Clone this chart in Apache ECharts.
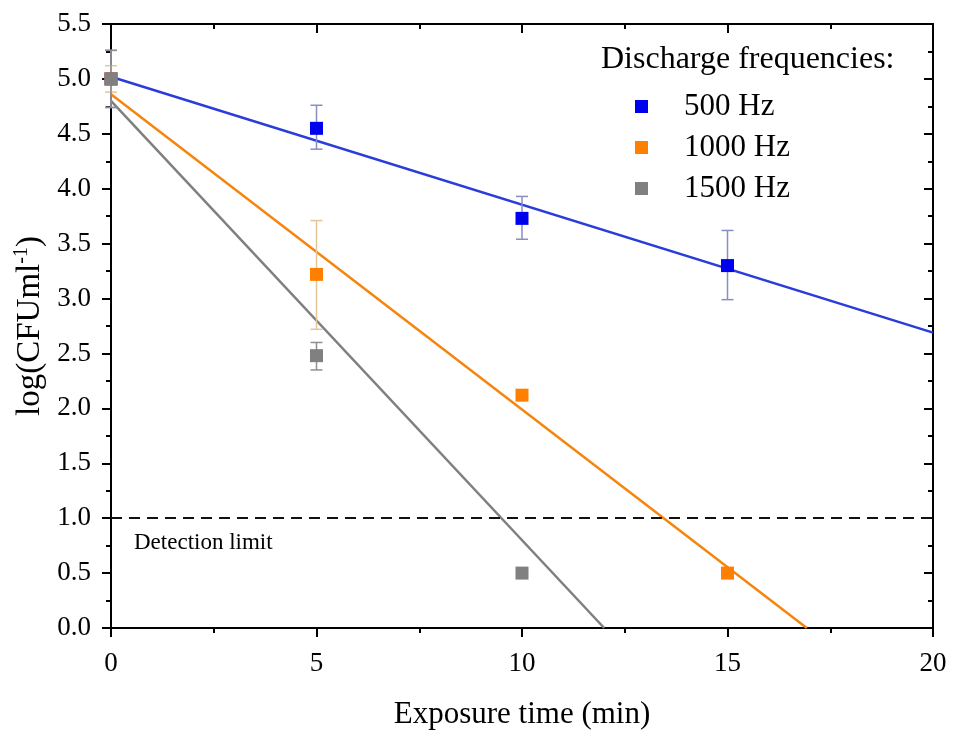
<!DOCTYPE html>
<html>
<head>
<meta charset="utf-8">
<script src="https://cdn.jsdelivr.net/npm/echarts@6/dist/echarts.min.js"></script>
<style>
  html, body { margin: 0; padding: 0; background: #fff; }
  #grafico { width: 954px; height: 735px; }
</style>
</head>
<body>
<div id="grafico"></div>
<script>
// measured points (time in min, log CFU/ml)
var time500 = [0, 5, 10, 15];
var val500 = [5.0, 4.55, 3.73, 3.30];
var low500 = [4.74, 4.36, 3.54, 2.99];
var high500 = [5.26, 4.76, 3.93, 3.62];

var time1000 = [0, 5, 10, 15];
var val1000 = [5.0, 3.22, 2.12, 0.50];
var low1000 = [4.88, 2.72, 2.12, 0.50];
var high1000 = [5.12, 3.71, 2.12, 0.50];

var time1500 = [0, 5, 10];
var val1500 = [5.0, 2.48, 0.50];
var low1500 = [4.74, 2.35, 0.50];
var high1500 = [5.26, 2.60, 0.50];

// linear fits: [x, y] endpoints
var fit500 = [[0, 5.02], [20, 2.69]];
var fit1000 = [[0, 4.86], [16.93, 0]];
var fit1500 = [[0, 4.80], [12.0, 0]];

var detectionLimit = 1.0;
var names = ['500 Hz', '1000 Hz', '1500 Hz'];

var font = 'Liberation Serif';
var chartDom = document.getElementById('grafico');
var myChart = echarts.init(chartDom);

function pts(xs, ys) {
  return xs.map(function (x, i) { return [x, ys[i]]; });
}
function bars(xs, lo, hi) {
  var out = [];
  xs.forEach(function (x, i) {
    if (hi[i] > lo[i]) out.push([x, lo[i], hi[i]]);
  });
  return out;
}
function errSeries(data, color) {
  return {
    type: 'custom',
    z: 3,
    silent: true,
    data: data,
    renderItem: function (params, api) {
      var p0 = api.coord([api.value(0), api.value(1)]);
      var p1 = api.coord([api.value(0), api.value(2)]);
      var w = 6;
      var st = { stroke: color, lineWidth: 1.5 };
      return {
        type: 'group',
        children: [
          { type: 'line', shape: { x1: p0[0], y1: p0[1], x2: p1[0], y2: p1[1] }, style: st },
          { type: 'line', shape: { x1: p0[0] - w, y1: p0[1], x2: p0[0] + w, y2: p0[1] }, style: st },
          { type: 'line', shape: { x1: p1[0] - w, y1: p1[1], x2: p1[0] + w, y2: p1[1] }, style: st }
        ]
      };
    }
  };
}
function fitSeries(name, data, color) {
  return {
    name: name,
    type: 'line',
    z: 2,
    data: data,
    showSymbol: false,
    silent: true,
    lineStyle: { color: color, width: 2.5 }
  };
}
function dotSeries(name, data, color) {
  return {
    name: name,
    type: 'scatter',
    z: 4,
    symbol: 'rect',
    symbolSize: 13,
    data: data,
    itemStyle: { color: color, opacity: 1 }
  };
}

var axisLine = { show: true, onZero: false, lineStyle: { color: '#000', width: 2 } };

var option = {
  animation: false,
  title: {
    text: 'Discharge frequencies:',
    left: 601,
    top: 44,
    padding: 0,
    textStyle: { fontFamily: font, fontSize: 32, fontWeight: 'normal', color: '#000' }
  },
  legend: {
    data: names,
    orient: 'vertical',
    left: 630,
    top: 86,
    itemWidth: 13,
    itemHeight: 13,
    itemGap: 10,
    icon: 'rect',
    textStyle: { fontFamily: font, fontSize: 31, color: '#000', lineHeight: 30, padding: [0, 0, 0, 31] }
  },
  grid: { left: 111, right: 21, top: 24, bottom: 104 },
  xAxis: [
    {
      type: 'value', position: 'bottom', min: 0, max: 20, interval: 5,
      name: 'Exposure time (min)', nameLocation: 'middle', nameGap: 71,
      nameTextStyle: { fontFamily: font, fontSize: 31, color: '#000' },
      axisLine: axisLine,
      axisTick: { inside: false, length: 9, lineStyle: { color: '#000', width: 2 } },
      minorTick: { show: true, splitNumber: 2, length: 5, lineStyle: { color: '#000', width: 2 } },
      splitLine: { show: false },
      axisLabel: { fontFamily: font, fontSize: 27, color: '#000', margin: 22 }
    },
    {
      type: 'value', position: 'top', min: 0, max: 20, interval: 5,
      axisLine: axisLine,
      axisTick: { inside: true, length: 9, lineStyle: { color: '#000', width: 2 } },
      minorTick: { show: true, splitNumber: 2, length: 5, lineStyle: { color: '#000', width: 2 } },
      splitLine: { show: false },
      axisLabel: { show: false }
    }
  ],
  yAxis: [
    {
      type: 'value', position: 'left', min: 0, max: 5.5, interval: 0.5,
      name: 'log(CFUml{sup|-1})', nameLocation: 'middle', nameGap: 58,
      nameTextStyle: {
        fontFamily: font, fontSize: 33, color: '#000',
        rich: { sup: { fontFamily: font, fontSize: 20, color: '#000', padding: [0, 0, 17, 0] } }
      },
      axisLine: axisLine,
      axisTick: { inside: false, length: 9, lineStyle: { color: '#000', width: 2 } },
      minorTick: { show: true, splitNumber: 2, length: 5, lineStyle: { color: '#000', width: 2 } },
      splitLine: { show: false },
      axisLabel: {
        fontFamily: font, fontSize: 27, color: '#000', margin: 20,
        formatter: function (v) { return v.toFixed(1); }
      }
    },
    {
      type: 'value', position: 'right', min: 0, max: 5.5, interval: 0.5,
      axisLine: axisLine,
      axisTick: { inside: true, length: 9, lineStyle: { color: '#000', width: 2 } },
      minorTick: { show: true, splitNumber: 2, length: 5, lineStyle: { color: '#000', width: 2 } },
      splitLine: { show: false },
      axisLabel: { show: false }
    }
  ],
  graphic: [
    {
      type: 'text', left: 134, top: 531,
      style: { text: 'Detection limit', fontFamily: font, fontSize: 23, fill: '#000' }
    }
  ],
  series: [
    {
      name: 'limit',
      type: 'line',
      data: [],
      markLine: {
        silent: true,
        symbol: 'none',
        label: { show: false },
        lineStyle: { color: '#111', type: [11, 7], width: 2 },
        data: [{ yAxis: detectionLimit }]
      }
    },
    fitSeries('fit 500', fit500, '#2a3ddb'),
    fitSeries('fit 1000', fit1000, '#f5850f'),
    fitSeries('fit 1500', fit1500, '#7f7f7f'),
    errSeries(bars(time500, low500, high500), '#8a8cc4'),
    errSeries(bars(time1000, low1000, high1000), '#e4c596'),
    errSeries(bars(time1500, low1500, high1500), '#8f8f8f'),
    dotSeries(names[0], pts(time500, val500), '#0000f0'),
    dotSeries(names[1], pts(time1000, val1000), '#ff8000'),
    dotSeries(names[2], pts(time1500, val1500), '#808080')
  ]
};

option && myChart.setOption(option);
</script>
</body>
</html>
